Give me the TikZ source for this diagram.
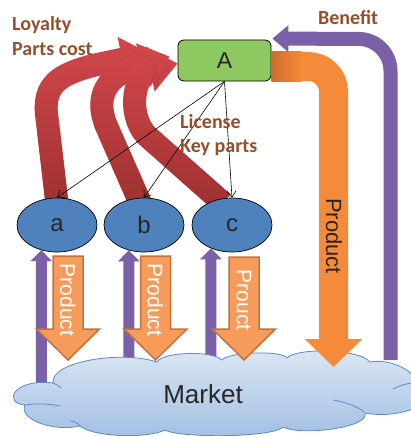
\documentclass[tikz,border=0pt]{standalone}
\usepackage{fontspec}
\setmainfont{Liberation Sans}
\newfontfamily\labelfont{Carlito}
\usetikzlibrary{arrows.meta,shapes.geometric,fadings,calc}

\definecolor{boxgreen}{HTML}{8DC860}
\definecolor{ellblue}{HTML}{4F81BD}
\definecolor{labelbrown}{HTML}{954F2B}
\definecolor{costred}{HTML}{D2474B}
\definecolor{costdark}{HTML}{9C3030}
\definecolor{prodorange}{HTML}{F58A3B}
\definecolor{proddark}{HTML}{CF6C2C}
\definecolor{prodfill}{HTML}{F79B5A}
\definecolor{prodedge}{HTML}{C2733D}
\definecolor{payviolet}{HTML}{7B60A8}
\definecolor{cloudtop}{HTML}{DCE7F4}
\definecolor{cloudbottom}{HTML}{A2BFE3}
\definecolor{cloudedge}{HTML}{5A8AC6}

\pgfdeclarelayer{behind}
\pgfsetlayers{behind,main}

\newcommand\prodarrow[4]{% centre x, top y, name, text
  \draw[prodbox] (#1-15,#2) -- (#1+15,#2) -- (#1+15,329) -- (#1+31.5,329)
    -- (#1,360) -- (#1-31.5,329) -- (#1-15,329) -- cycle;
  \node[prodtext] (#3) at (#1,300) {#4};}

\begin{document}
\begin{tikzpicture}[x=1pt,y=-1pt,
  hub/.style={rectangle, rounded corners=6pt, draw=black, line width=0.8pt,
    fill=boxgreen, minimum width=93pt, minimum height=41pt, inner sep=0pt,
    font=\fontsize{23pt}{27pt}\selectfont, text=black!85},
  party/.style={ellipse, draw=black, line width=0.7pt, fill=ellblue,
    minimum width=80pt, minimum height=54pt, inner sep=0pt,
    font=\fontsize{24pt}{28pt}\selectfont, text=black!85},
  link/.style={draw=black, line width=0.6pt, -{Straight Barb[length=6pt,width=9pt]}},
  costflow/.style={draw=costred, line width=23pt, -{Triangle[length=28pt,width=44pt]}},
  costshade/.style={draw=costdark, line width=23pt, -{Triangle[length=28pt,width=44pt]}, path fading=north},
  riseflow/.style={draw=payviolet, line width=11pt, -{Triangle[length=11pt,width=21pt]}},
  benefitflow/.style={draw=payviolet, line width=14pt, -{Triangle[length=16pt,width=26pt]}},
  productflow/.style={draw=prodorange, line width=29pt, -{Triangle[length=28pt,width=56pt]}},
  prodbox/.style={draw=prodedge, line width=1.5pt, fill=prodfill, line join=miter},
  prodtext/.style={rotate=-90, text=white, inner sep=0pt,
    font=\fontsize{21pt}{25pt}\selectfont},
  tag/.style={anchor=base west, inner sep=0pt, text=labelbrown,
    font=\labelfont\bfseries\fontsize{20pt}{24pt}\selectfont},
  cloudfill/.style={draw=cloudedge, line width=0.8pt, top color=cloudtop, bottom color=cloudbottom},
  cloudfold/.style={draw=cloudedge, line width=0.8pt}
]
\useasboundingbox (0,0) rectangle (411,436);

% parties
\node[hub] (A) at (224.5,60.5) {A};
\node[party] (a) at (57,225) {a};
\node[party] (b) at (144,225) {b};
\node[party] (c) at (232,225) {c};

% cost flows from the parts makers up to A
\coordinate (capA) at ($(A.west)+(-28,-7)$);
\coordinate (capB) at ($(A.west)+(-8,-4)$);
\coordinate (capC) at ($(A.west)+(0,3)$);
\begin{pgfonlayer}{behind}
  \draw[costflow, postaction={costshade}] ($(a.north)+(0,6)$) -- (47,118)
    .. controls (42,84) and (60,74) .. (95,65) -- (capA);
  \draw[costflow, postaction={costshade}] ($(b.100)+(1,5)$) -- (106,125)
    .. controls (96,100) and (104,80) .. (128,70) -- (capB);
  \draw[costflow, postaction={costshade}] ($(c.115)+(3,4)$) -- (146,135)
    .. controls (126,112) and (135,72) .. (capC);
\end{pgfonlayer}

% licences handed out by A
\draw[link] (A.south) -- (a.north);
\draw[link] (A.south) -- (b.north);
\draw[link] (A.south) -- (c.north);

% payments coming back from the market
\coordinate (pa) at (41.5,392);
\coordinate (pb) at (129,392);
\coordinate (pc) at (211,392);
\coordinate (pbig) at (390.5,360);
\draw[riseflow] (pa) -- (a.238);
\draw[riseflow] (pb) -- (b.239);
\draw[riseflow] (pc) -- (c.228);
\draw[benefitflow, rounded corners=32pt] (pbig) -- (390.5,39) -- ($(A.north east)+(1,-1)$);

% the market cloud
\path[cloudfill] (25,405)
  .. controls (2,403) and (14,378) .. (53,383)
  .. controls (50,362) and (120,350) .. (157,362)
  .. controls (162,352) and (212,350) .. (222,360)
  .. controls (228,352) and (282,350) .. (287,358)
  .. controls (295,348) and (358,348) .. (370,362)
  .. controls (392,358) and (420,372) .. (425,395)
  .. controls (426,410) and (390,418) .. (365,413)
  .. controls (370,428) and (300,436) .. (283,427)
  .. controls (272,438) and (178,438) .. (165,430)
  .. controls (150,438) and (95,438) .. (80,426)
  .. controls (55,432) and (18,420) .. (25,405) -- cycle;
\draw[cloudfold] (25,405) .. controls (38,403) and (50,404) .. (60,406);
\draw[cloudfold] (70,421) .. controls (74,421) and (78,423) .. (80,426);
\draw[cloudfold] (53,383) .. controls (56,384) and (59,386) .. (61,388);
\draw[cloudfold] (333,400) .. controls (345,402) and (357,406) .. (364,412);
\draw[cloudfold] (393,389) .. controls (399,386) and (405,384) .. (411,383);
\node[font=\fontsize{26pt}{30pt}\selectfont, text=black!85, inner sep=0pt] (market) at (203,394) {Market};

% product flows into the market
\coordinate (mkt) at (333.5,367);
\draw[productflow, rounded corners=25pt] ($(A.east)+(0,6)$) -- (333.5,66.5) -- (mkt);
\shade[left color=proddark, right color=prodorange] ($(A.east)+(0,-8.5)$) rectangle (302,81);
\node[rotate=-90, inner sep=0pt, text=black!85, font=\fontsize{22pt}{26pt}\selectfont] (bigprod) at (334,236) {Product};

\prodarrow{68}{256}{proda}{Product}
\prodarrow{155.5}{256}{prodb}{Product}
\prodarrow{244}{257}{prodc}{Prouct}

% labels
\node[tag] (loyalty) at (12,31) {Loyalty};
\node[tag] (partscost) at (12,56) {Parts cost};
\node[tag] (benefit) at (318,25) {Benefit};
\node[tag] (license) at (180,128) {License};
\node[tag] (keyparts) at (180,152) {Key parts};
\end{tikzpicture}
\end{document}
